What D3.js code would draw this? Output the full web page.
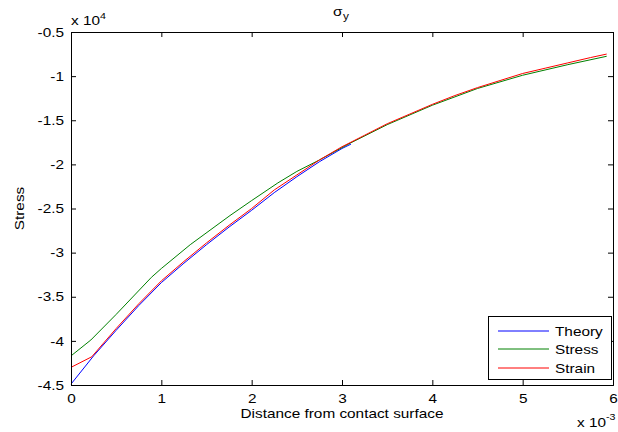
<!DOCTYPE html>
<html><head><meta charset="utf-8">
<script src="https://cdn.jsdelivr.net/npm/d3@7"></script>
<style>
html,body{margin:0;padding:0;background:#fff;}
svg text{font-family:"Liberation Sans",Arial,sans-serif;fill:#000;}
</style></head>
<body><svg id="c" width="618" height="432"></svg>
<script>
// x in units of 1e-3, y in units of 1e4
const xTicks = [0,1,2,3,4,5,6];
const yTicks = [-4.5,-4,-3.5,-3,-2.5,-2,-1.5,-1,-0.5];
const seriesNames = ["Theory","Stress","Strain"];
const seriesColors = ["#0000ff","#008000","#ff0000"];
const theoryX = [0,0.25,0.5,0.75,1.0,1.25,1.5,1.75,2.0,2.25,2.5,2.75,3.0,3.1];
const theoryY = [-4.49,-4.17,-3.88,-3.60,-3.34,-3.12,-2.91,-2.71,-2.52,-2.32,-2.14,-1.97,-1.82,-1.77];
const stressX = [0,0.22,0.5,0.89,1.0,1.32,1.76,2.0,2.29,2.5,2.75,3.0,3.09,3.5,4.0,4.5,5.0,5.5,5.93];
const stressY = [-4.17,-3.99,-3.70,-3.28,-3.18,-2.91,-2.58,-2.41,-2.21,-2.08,-1.95,-1.81,-1.76,-1.55,-1.33,-1.14,-0.99,-0.87,-0.775];
const strainX = [0,0.23,0.5,0.75,1.0,1.25,1.5,1.75,2.0,2.25,2.5,2.75,3.0,3.25,3.5,3.75,4.0,4.25,4.5,4.75,5.0,5.25,5.5,5.75,5.93];
const strainY = [-4.30,-4.18,-3.86,-3.58,-3.32,-3.10,-2.89,-2.69,-2.50,-2.29,-2.12,-1.95,-1.80,-1.67,-1.54,-1.43,-1.32,-1.22,-1.13,-1.05,-0.97,-0.91,-0.85,-0.79,-0.75];

const svg = d3.select("#c");
const L=71,R=613,T=32,B=385;
const x = d3.scaleLinear().domain([0,6]).range([L,R]);
const y = d3.scaleLinear().domain([-4.5,-0.5]).range([B,T]);
const fs = 13;

// lines
const series = [[theoryX,theoryY],[stressX,stressY],[strainX,strainY]];
const line = d3.line().x(d=>x(d[0])).y(d=>y(d[1]));
series.forEach((s,i)=>{
  const pts = s[0].map((v,j)=>[v,s[1][j]]);
  svg.append("path").datum(pts).attr("d",line).attr("fill","none")
    .attr("stroke",seriesColors[i]).attr("stroke-width",1);
});

// axes (ticks inside, box)
const tk=5;
svg.append("g").attr("transform",`translate(0,${B})`)
  .call(d3.axisBottom(x).tickValues(xTicks).tickSize(-tk).tickPadding(9).tickFormat(d3.format("d")));
svg.append("g").attr("transform",`translate(0,${T})`)
  .call(d3.axisTop(x).tickValues(xTicks).tickSize(-tk).tickFormat(""));
svg.append("g").attr("transform",`translate(${L},0)`)
  .call(d3.axisLeft(y).tickValues(yTicks).tickSize(-tk).tickPadding(7).tickFormat(d=>String(d)));
svg.append("g").attr("transform",`translate(${R},0)`)
  .call(d3.axisRight(y).tickValues(yTicks).tickSize(-tk).tickFormat(""));
svg.selectAll(".domain").attr("stroke","#000").attr("stroke-width",1);
svg.selectAll(".tick line").attr("stroke","#000");
svg.selectAll(".tick text").attr("font-size",fs).attr("font-family","Liberation Sans, Arial, sans-serif").attr("fill","#000");

// labels
svg.append("text").attr("x",(L+R)/2).attr("y",418).attr("text-anchor","middle").attr("font-size",fs).text("Distance from contact surface");
svg.append("text").attr("transform",`translate(24,${(T+B)/2}) rotate(-90)`).attr("text-anchor","middle").attr("font-size",fs).text("Stress");
svg.append("text").attr("x",333).attr("y",16).attr("font-size",fs).text("σ");
svg.append("text").attr("x",343).attr("y",20).attr("font-size",10).text("y");
svg.append("text").attr("x",71).attr("y",25).attr("font-size",fs).text("x 10");
svg.append("text").attr("x",100).attr("y",19).attr("font-size",9).text("4");
svg.append("text").attr("x",577).attr("y",427).attr("font-size",fs).text("x 10");
svg.append("text").attr("x",606).attr("y",420).attr("font-size",9).text("-3");

// legend
const lg = svg.append("g");
lg.append("rect").attr("x",488.5).attr("y",316.5).attr("width",123).attr("height",63)
  .attr("fill","#fff").attr("stroke","#000").attr("stroke-width",1);
const rowY=[331,349,368];
seriesNames.forEach((n,i)=>{
  lg.append("line").attr("x1",498).attr("x2",549).attr("y1",rowY[i]).attr("y2",rowY[i]).attr("stroke",seriesColors[i]).attr("stroke-width",1);
  lg.append("text").attr("x",555).attr("y",rowY[i]+5).attr("font-size",fs).text(n);
});

// horizontal stretch of the text to match the reference rendering
svg.selectAll("text").each(function(){
  const len=this.getComputedTextLength();
  if(len>0) d3.select(this).attr("textLength",len*1.18).attr("lengthAdjust","spacingAndGlyphs");
});
</script></body></html>
